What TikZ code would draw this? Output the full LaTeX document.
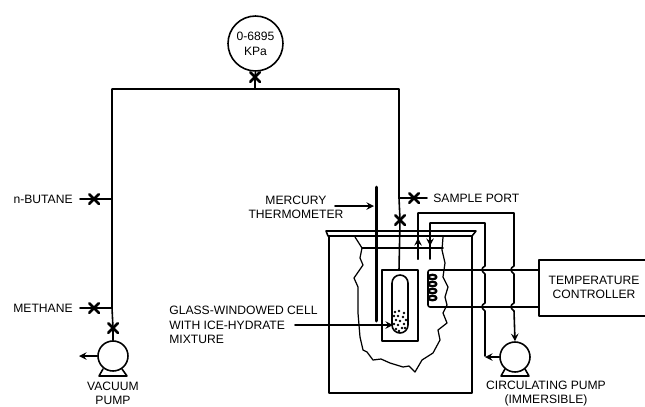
\documentclass[tikz,border=0pt]{standalone}
\usepackage{fontspec}
\setmainfont{Liberation Sans}
\usetikzlibrary{arrows,shapes.misc}
\tikzset{
  pipe/.style={line width=0.9pt},
  lbl/.style={inner sep=0pt,align=center,font=\fontsize{6.9}{8.1}\selectfont},
  valvex/.style={cross out,draw,line width=1.5pt,minimum size=0.14cm,inner sep=0pt},
  pumpnode/.style={circle,draw,line width=0.9pt,fill=white,minimum size=0.6cm,inner sep=0pt},
  gaugenode/.style={circle,draw,line width=0.9pt,minimum size=1.1cm,inner sep=0pt,align=center,font=\fontsize{6.9}{8.4}\selectfont}
}
\begin{document}
\begin{tikzpicture}[line cap=round,line join=round,>=stealth,x=0.02cm,y=-0.02cm]
\useasboundingbox (0,0) rectangle (645,406);
\clip (0,0) rectangle (645,406);
\node [gaugenode] (gauge) at (255.5,43.5) {0-6895\\KPa};
\node [pumpnode] (vacpump) at (113,356) {};
\node [pumpnode] (circpump) at (515,357) {};
\node [valvex] (vgauge) at (255,77) {};
\node [valvex] (vbutane) at (94,199) {};
\node [valvex] (vmethane) at (94,308) {};
\node [valvex] (vvac) at (113,328) {};
\node [valvex] (vsample) at (414,198) {};
\node [valvex] (vcell) at (400,220) {};
\node [draw,line width=0.9pt,minimum width=2.2cm,minimum height=1.12cm,inner sep=0pt] (controller) at (594,288) {};
\node [lbl] (ctrllbl) at (594,287.5) {TEMPERATURE\\CONTROLLER};
\node [lbl,anchor=east] (butanelbl) at (73,199) {n-BUTANE};
\node [lbl,anchor=east] (methanelbl) at (73,308) {METHANE};
\node [lbl,anchor=west] (samplelbl) at (433,198) {SAMPLE PORT};
\node [lbl] (merclbl) at (296,207.5) {MERCURY\\THERMOMETER};
\node [lbl,anchor=west,align=left] (celllbl) at (169,325) {GLASS-WINDOWED CELL\\WITH ICE-HYDRATE\\MIXTURE};
\node [lbl] (vaclbl) at (113,393.5) {VACUUM\\PUMP};
\node [lbl] (circlbl) at (546,393.5) {CIRCULATING PUMP\\(IMMERSIBLE)};
\coordinate (topleft) at (112,89);
\coordinate (topright) at (399,89);
\coordinate (topmid) at (255,89);
\coordinate (jbutane) at (112,199);
\coordinate (jmethane) at (112,308);
\coordinate (jsample) at (399,198);
\coordinate (celltop) at (399,270);
\coordinate (endbutane) at (80,199);
\coordinate (endmethane) at (80,308);
\coordinate (endsample) at (427,198);
\coordinate (vacout) at (79,356);
\coordinate (mercstart) at (335,206);
\coordinate (mercend) at (374,206);
\coordinate (cellstart) at (295,325);
\coordinate (cellend) at (393,325);
% gas lines
\draw [pipe] (gauge.south) -- (vgauge.center) -- (topmid);
\draw [pipe] (vacpump.north) -- (vvac.center) -- (jmethane) -- (jbutane) -- (topleft) -- (topright) -- (jsample) -- (vcell.center) -- (celltop);
\draw [pipe] (endbutane) -- (vbutane.center) -- (jbutane);
\draw [pipe] (endmethane) -- (vmethane.center) -- (jmethane);
\draw [pipe] (jsample) -- (vsample.center) -- (endsample);
\draw [pipe,->] (vacpump.west) -- (vacout);
\draw [pipe] (103,369) -- (99,376) -- (127,376) -- (122,369);
\draw [pipe] (505,369) -- (501,376) -- (529,376) -- (525,369);
% bath
\draw [pipe] (326,231) -- (476,231) -- (472,236) -- (328,236) -- cycle;
\draw [pipe] (329,236) -- (329,393) -- (472,393) -- (472,236);
\draw [line width=0.7pt] (355,237) -- (362,248) -- (360,258) -- (363,265) -- (354,278) -- (358,287) -- (358,313) -- (360,337) -- (363,350) -- (367,352) -- (373,360) -- (381,359) -- (390,363) -- (403,367) -- (409,366) -- (415,372) -- (422,360) -- (433,353) -- (440,340) -- (438,330) -- (447,323) -- (443,313) -- (447,305) -- (445,297) -- (448,287) -- (443,277) -- (445,263) -- (442,250) -- (443,237);
\draw [pipe] (362,248) -- (443,248);
% cell
\draw [pipe] (382,270) rectangle (418,341);
\draw [pipe,rounded corners=0.16cm] (392,275) rectangle (408,333);
\foreach \px/\py in {395/312,399/311,404/313,394/316,398/316,403/317,406/320,396/320,400/321,394/324,404/324,398/325,402/328,396/329,399/331,405/328}
  \fill (\px,\py) circle (0.028cm);
\draw [line width=1.7pt] (376,187) -- (376,321);
\draw [pipe,->] (mercstart) -- (mercend);
\draw [pipe,->] (cellstart) -- (cellend);
% coil and controller leads
\draw [pipe,rounded corners=0.04cm] (controller.west |- 0,270) -- (428,270) -- (428,307) -- (controller.west |- 0,307);
\foreach \py in {277,284,291,298}
  \draw [line width=1.3pt] (432.5,\py) ellipse (0.08cm and 0.045cm);
% circulating loop
\draw [pipe] (418,259) -- (418,213) -- (514,213) -- (514,266) .. controls (510,268) and (510,271) .. (514,274) -- (514,303) .. controls (510,305) and (510,308) .. (514,311);
\draw [pipe,->] (514,311) -- (circpump.north);
\draw [pipe,->] (418,259) -- (418,238);
\draw [pipe] (430,259) -- (430,223) -- (485,223) -- (485,266) .. controls (481,268) and (481,271) .. (485,274) -- (485,303) .. controls (481,305) and (481,308) .. (485,311) -- (485,356);
\draw [pipe,->] (430,225) -- (430,246);
\draw [pipe,->] (circpump.west) -- (485,357);
\end{tikzpicture}
\end{document}
